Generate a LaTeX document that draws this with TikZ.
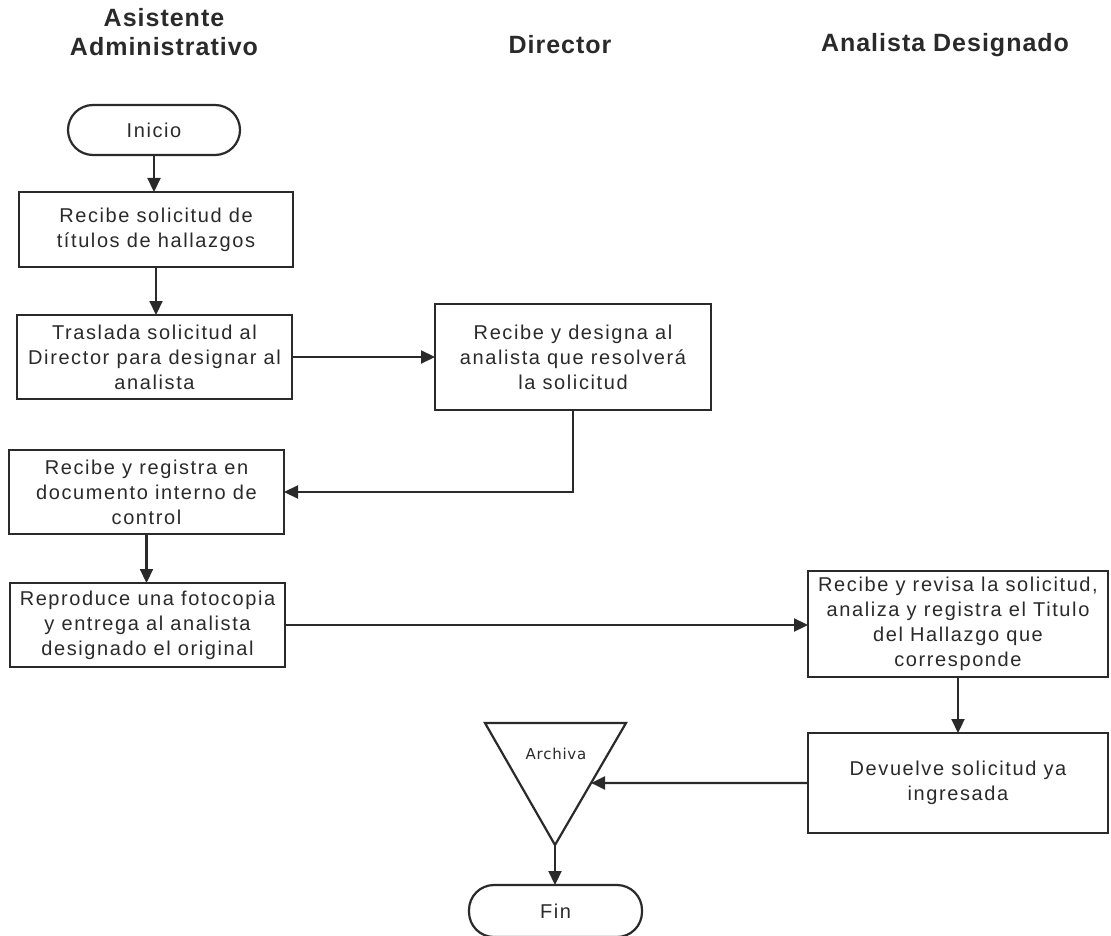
\documentclass[tikz,border=0pt]{standalone}
\usepackage{fontspec}
\usetikzlibrary{arrows.meta,intersections,calc}
\newfontfamily\bodyfont{Liberation Sans}[LetterSpace=8]
\newfontfamily\headfont{Liberation Sans}[LetterSpace=4]
\newfontfamily\notefont{DejaVu Sans}[LetterSpace=5]
\definecolor{ink}{HTML}{2A2A2A}

\begin{document}
\begin{tikzpicture}[x=1pt,y=-1pt,
  every node/.style={inner sep=0pt, outer sep=0pt},
  proc/.style={draw=ink, line width=2.2pt, fill=white, align=center,
    font=\bodyfont\fontsize{20}{25}\selectfont, text=ink},
  term/.style={proc, rounded corners=25pt},
  head/.style={align=center, font=\headfont\bfseries\fontsize{25}{29}\selectfont, text=ink},
  flow/.style={draw=ink, line width=2.2pt, -{Triangle[length=14pt,width=13pt]}},
]
\useasboundingbox (0,0) rectangle (1111,936);

% lane headings
\node[head] (hA) at (164,32.5) {Asistente\\Administrativo};
\node[head] (hD) at (560,45) {Director};
\node[head] (hN) at (945,45) {Analista Designado};

% process steps
\node[term, minimum width=172pt, minimum height=50pt] (ini) at (154,130) {Inicio};
\node[proc, minimum width=274pt, minimum height=75pt] (b1) at (156,229.5)
  {Recibe solicitud de\\títulos de hallazgos};
\node[proc, minimum width=275pt, minimum height=84pt] (b2) at (154.5,357)
  {Traslada solicitud al\\Director para designar al\\analista};
\node[proc, minimum width=276pt, minimum height=106pt] (dir) at (573,357)
  {Recibe y designa al\\analista que resolverá\\la solicitud};
\node[proc, minimum width=275pt, minimum height=84pt] (b3) at (146.5,492)
  {Recibe y registra en\\documento interno de\\control};
\node[proc, minimum width=275pt, minimum height=84pt] (b4) at (147.5,625)
  {Reproduce una fotocopia\\y entrega al analista\\designado el original};
\node[proc, minimum width=300pt, minimum height=106pt] (b5) at (958,624)
  {Recibe y revisa la solicitud,\\analiza y registra el Titulo\\del Hallazgo que\\corresponde};
\node[proc, minimum width=300pt, minimum height=100pt] (b6) at (958,783)
  {Devuelve solicitud ya\\ingresada};
\node[term, minimum width=173pt, minimum height=52pt] (fin) at (555.5,911) {Fin};

% archive symbol
\coordinate (tL) at (485,723);
\coordinate (tR) at (626,723);
\coordinate (tB) at (555,845);
\draw[draw=ink, line width=2.2pt, fill=white, name path=tri, line join=miter]
  (tL) -- (tR) -- (tB) -- cycle;
\node[font=\notefont\fontsize{15}{17}\selectfont, text=ink] (arch) at (556,754) {Archiva};

% connectors
\draw[flow] (ini.south) -- (ini.south |- b1.north);
\draw[flow] (b1.south) -- (b1.south |- b2.north);
\draw[flow] (b2.east) -- (b2.east -| dir.west);
\draw[flow] (dir.south) |- (b3.east);
\draw[flow] (b3.south) -- (b3.south |- b4.north);
\draw[flow] (b4.east) -- (b4.east -| b5.west);
\draw[flow] (b5.south) -- (b6.north);
\path[name path=feed] (b6.west) -- ++(-240,0);
\path[name intersections={of=tri and feed, by=arcin}];
\draw[flow] (b6.west) -- (arcin);
\draw[flow] (tB) -- (tB |- fin.north);
\end{tikzpicture}
\end{document}
